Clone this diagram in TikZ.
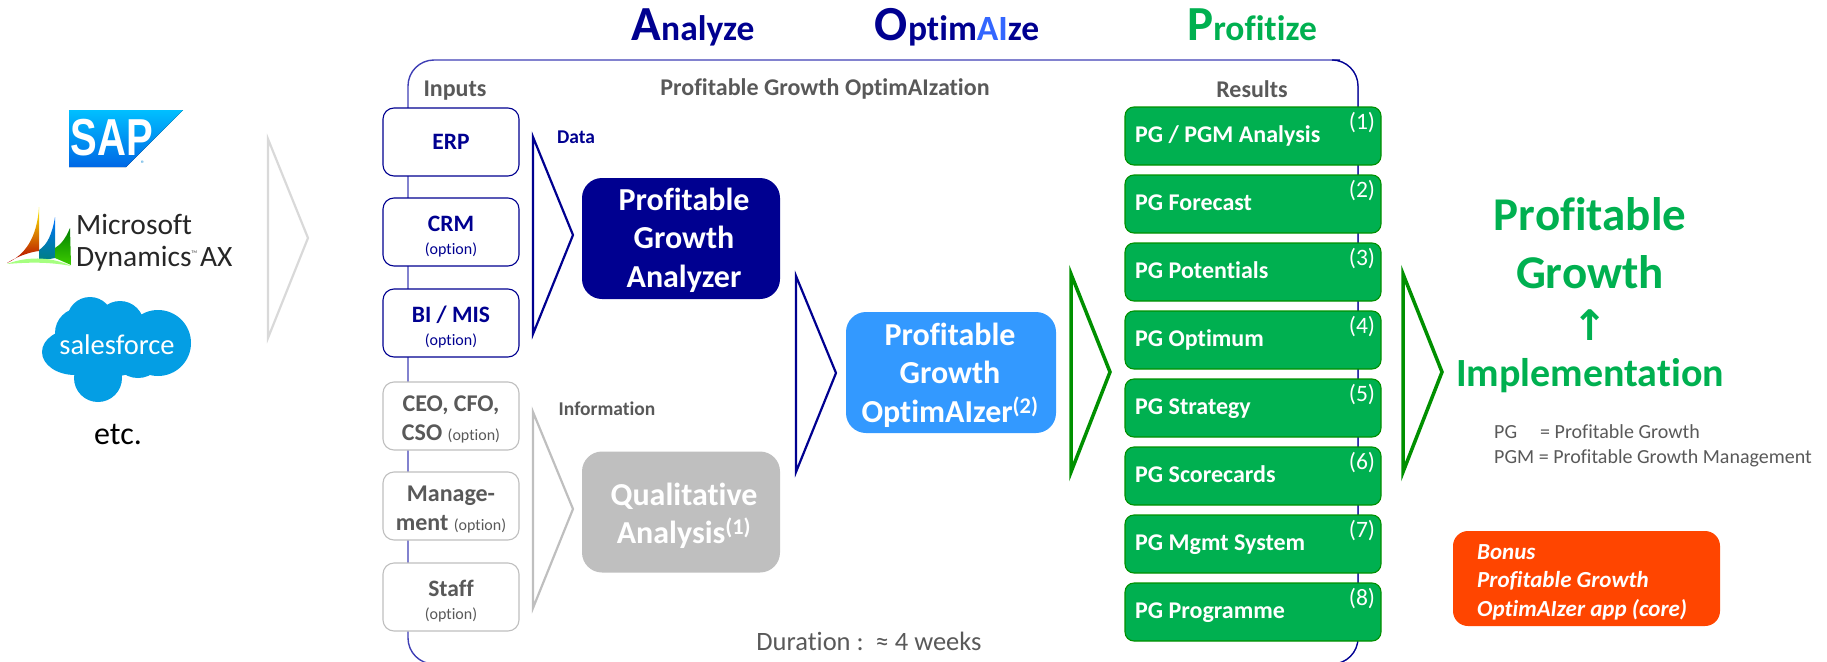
\documentclass[tikz,border=0pt]{standalone}
\usepackage{fontspec}
\setmainfont[Ligatures=NoCommon]{Carlito}
\newfontfamily\dejavu{DejaVu Sans}
\newfontfamily\sapfont{Liberation Sans}
\definecolor{navy}{HTML}{000090}
\definecolor{framecol}{HTML}{3F3FB5}
\definecolor{darkgray}{HTML}{595959}
\definecolor{midgray}{HTML}{BFBFBF}
\definecolor{lightgray2}{HTML}{D9D9D9}
\definecolor{pggreen}{HTML}{00B050}
\definecolor{pgborder}{HTML}{009000}
\definecolor{skyblue}{HTML}{3399FF}
\definecolor{aiblue}{HTML}{3366FF}
\definecolor{bonus}{HTML}{FF4500}
\definecolor{sfblue}{HTML}{049EE4}
\tikzset{
  inbox/.style={draw=navy,fill=white,line width=1.1pt,rounded corners=11pt,minimum width=136pt,minimum height=68pt,inner sep=0pt,align=center,text=navy,font=\fontsize{23.5}{25}\selectfont\bfseries},
  graybox/.style={inbox,draw=midgray,text=darkgray,font=\fontsize{24}{29}\selectfont\bfseries},
  resbox/.style={draw=pgborder,fill=pggreen,line width=1.1pt,rounded corners=9pt,minimum width=256pt,minimum height=58pt,inner sep=0pt},
  reslabel/.style={anchor=base west,text=white,font=\fontsize{24}{28}\selectfont\bfseries,inner sep=0pt},
  resnum/.style={text=white,font=\fontsize{23.5}{26}\selectfont,inner sep=0pt},
  bigbox/.style={rounded corners=20pt,minimum width=198pt,minimum height=121pt,inner sep=0pt},
  biglabel/.style={inner sep=0pt,align=center,text=white,font=\fontsize{32}{38.5}\selectfont\bfseries},
  tri/.style={line width=2.2pt,miter limit=10},
  head/.style={font=\fontsize{35.5}{40}\selectfont\bfseries,inner sep=0pt,anchor=base},
  greytext/.style={text=darkgray,font=\fontsize{24}{26}\selectfont\bfseries,inner sep=0pt},
  smallhead/.style={font=\fontsize{19.5}{22}\selectfont\bfseries,inner sep=0pt},
  note/.style={text=darkgray,font=\fontsize{20}{24}\selectfont,inner sep=0pt,anchor=base west},
  green big/.style={text=pggreen,font=\fontsize{47}{52}\selectfont\bfseries,inner sep=0pt},
}
\newcommand{\optlabel}{{\fontsize{16}{16}\selectfont\mdseries (option)}}
\newcommand{\headcap}[1]{{\fontsize{49}{49}\selectfont #1}}
\newcommand{\lowstrut}[1]{\rule{0pt}{#1}}
\begin{document}
\begin{tikzpicture}[x=1pt,y=-1pt]
\useasboundingbox (0,0) rectangle (1827,661);
% ---- frame
\draw[framecol,line width=1.4pt,rounded corners=26pt] (408,60) rectangle (1358,664);
\draw[navy,line width=1pt,rounded corners=26pt] (1340,60) -- (1358,60) -- (1358,664) -- (1340,664);
% ---- logos
\fill[top color=cyan!75!blue,bottom color=blue!55!cyan!90!black] (69,110) -- (183,110) -- (126,167) -- (69,167) -- cycle;
\node[inner sep=0pt,text=white,font=\sapfont\fontsize{40}{40}\selectfont\bfseries] (sap) at (112,138) {\scalebox{1}[1.3]{SAP}};
\node[inner sep=0pt,text=cyan!70!blue,font=\fontsize{8}{8}\selectfont] (reg) at (143,164) {®};
\shade[top color=yellow!90!orange,bottom color=red!70!black] (39,207) .. controls (37,238) and (25,255) .. (7,263) .. controls (18,256) and (30,252) .. (39,251) -- cycle;
\shade[top color=blue!55!cyan,bottom color=teal] (55,217) .. controls (52,235) and (47,245) .. (39,250) -- (39,261) -- (55,258) -- cycle;
\shade[top color=green!50!black,bottom color=green!70!yellow!80!black] (70,228) .. controls (65,240) and (60,245) .. (55,248) -- (55,258) -- (71,265) -- cycle;
\fill[green!70!yellow!50!white] (7,264) .. controls (30,255) and (55,258) .. (71,266) .. controls (50,262) and (30,262) .. (7,264) -- cycle;
\node[inner sep=0pt,anchor=base west,font=\fontsize{29.5}{30}\selectfont,text=black!85] (ms1) at (76,234) {Microsoft};
\node[inner sep=0pt,anchor=base west,font=\fontsize{29.5}{30}\selectfont,text=black!85] (ms2) at (76,266) {Dynamics\raisebox{13pt}{\fontsize{4}{4}\selectfont TM}\kern3pt AX};
\fill[sfblue] (117,345) circle (31) (80,333) circle (25) (90,320) circle (23) (75,352) ellipse (33 and 23) (158,343) circle (33) (120,325) circle (24) (100,355) circle (30) (138,352) circle (26) (98,378) circle (24);
\node[inner sep=0pt,text=white,font=\fontsize{28.5}{29}\selectfont] (sf) at (117,345) {salesforce};
\node[inner sep=0pt,text=black,font=\fontsize{32}{32}\selectfont] (etc) at (118,435) {etc.};
% ---- triangles
\draw[tri,draw=lightgray2] (268,139) -- (308,238) -- (268,338) -- cycle;
\draw[tri,draw=navy] (533,137) -- (573,235) -- (533,334) -- cycle;
\draw[tri,draw=midgray] (533,412) -- (573,509) -- (533,608) -- cycle;
\draw[tri,draw=navy] (796,276) -- (836,373) -- (796,472) -- cycle;
\draw[tri,draw=pgborder,line width=3.5pt] (1071,274) -- (1110,372) -- (1071,472) -- cycle;
\draw[tri,draw=pgborder,line width=3.5pt] (1403,274) -- (1442,372) -- (1403,472) -- cycle;
% ---- headings
\node[head,text=navy] (hA) at (693,41) {\headcap{A}nalyze};
\node[head,text=navy] (hO) at (957,41) {\headcap{O}ptim\textcolor{aiblue}{AI}ze};
\node[head,text=pggreen] (hP) at (1252,41) {\headcap{P}rofitize};
\node[greytext] (ti) at (455,91) {Inputs};
\node[greytext] (tt) at (825,89) {Profitable Growth OptimAIzation};
\node[greytext] (tr) at (1252,89) {Results};
\node[smallhead,text=navy] (tdata) at (576,137) {Data};
\node[smallhead,text=darkgray] (tinfo) at (607,409) {Information};
% ---- inputs
\node[inbox] (erp) at (451,142) {ERP};
\node[inbox] (crm) at (451,232) {\lowstrut{25pt}CRM\\[-2pt]{\fontsize{16}{16}\selectfont\mdseries (option)}};
\node[inbox] (bi) at (451,323) {\lowstrut{25pt}BI / MIS\\[-2pt]{\fontsize{16}{16}\selectfont\mdseries (option)}};
\node[graybox] (ceo) at (451,416) {\lowstrut{23pt}CEO, CFO,\\CSO \optlabel};
\node[graybox] (mgt) at (451,506) {\lowstrut{23pt}Manage-\\ment \optlabel};
\node[inbox,draw=midgray,text=darkgray] (staff) at (451,597) {\lowstrut{25pt}Staff\\[-2pt]{\fontsize{16}{16}\selectfont\mdseries (option)}};
% ---- main boxes
\node[bigbox,fill=navy] (pga) at (681,238.5) {};
\node[biglabel] (pgal) at (684,240) {Profitable\\Growth\\Analyzer};
\node[bigbox,fill=midgray] (qa) at (681,512) {};
\node[biglabel] (qal) at (684,516) {Qualitative\\Analysis\textsuperscript{(1)}};
\node[bigbox,fill=skyblue,minimum width=210pt] (optb) at (951,372.5) {};
\node[biglabel] (optl) at (950,375) {Profitable\\Growth\\OptimAIzer\textsuperscript{(2)}};
% ---- results
\foreach \i/\lab in {0/{PG / PGM Analysis},1/{PG Forecast},2/{PG Potentials},3/{PG Optimum},4/{PG Strategy},5/{PG Scorecards},6/{PG Mgmt System},7/{PG Programme}}{
  \pgfmathtruncatemacro{\num}{\i+1}
  \node[resbox] (r\i) at (1253,{136+68*\i}) {};
  \node[reslabel] (rl\i) at (1135,{142+68*\i}) {\lab};
  \node[resnum] (rn\i) at (1362,{123+68*\i}) {(\num)};
}
% ---- right side
\node[green big] (g1) at (1590,214) {Profitable};
\node[green big] (g2) at (1590,272) {Growth};
\node[text=pggreen,font=\dejavu\bfseries\fontsize{42}{42}\selectfont,inner sep=0pt] (up) at (1590,325) {↑};
\node[text=pggreen,font=\fontsize{40}{46}\selectfont\bfseries,inner sep=0pt] (impl) at (1590,376) {Implementation};
\node[note] (n1) at (1494,438) {PG};
\node[note] (n1b) at (1540,438) {= Profitable Growth};
\node[note] (n2) at (1494,463) {PGM = Profitable Growth Management};
\node[rounded corners=15pt,fill=bonus,minimum width=267pt,minimum height=95pt,inner sep=0pt] (bx) at (1586.5,578.5) {};
\node[inner sep=0pt,anchor=west,align=left,text=white,font=\fontsize{23}{28.5}\selectfont\bfseries\itshape] (bt) at (1477,582) {Bonus\\Profitable Growth\\OptimAIzer app (core)};
\node[text=darkgray,font=\fontsize{26.5}{28}\selectfont,inner sep=0pt] (dur) at (869,641) {Duration :\ \ ≈ 4 weeks};
\end{tikzpicture}
\end{document}
